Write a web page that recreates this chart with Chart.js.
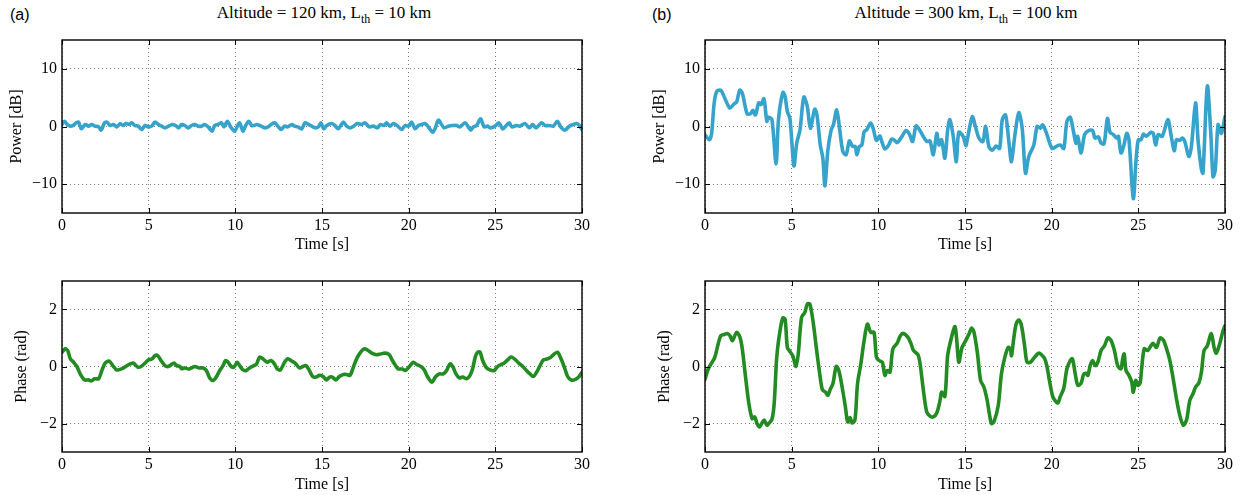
<!DOCTYPE html>
<html>
<head>
<meta charset="utf-8">
<script src="https://cdn.jsdelivr.net/npm/chart.js@4"></script>
<style>
  body { margin: 0; background: #fff; width: 1247px; height: 495px; position: relative; overflow: hidden; }
  .panel { position: absolute; }
  .tag { position: absolute; font-family: "Liberation Sans", Arial, sans-serif; font-size: 16px; line-height: 16px; }
  .ttl { position: absolute; font-family: "Liberation Serif", "Times New Roman", serif; font-size: 17px; line-height: 17px; transform: translateX(-50%); white-space: nowrap; }
  .ttl sub { font-size: 12px; vertical-align: -5px; line-height: 0; }
</style>
</head>
<body>

<div class="tag" style="left:10px; top:7px;">(a)</div>
<div class="tag" style="left:652px; top:7px;">(b)</div>
<div class="ttl" style="left:324px; top:4px;">Altitude = 120 km, L<sub>th</sub> = 10 km</div>
<div class="ttl" style="left:966px; top:4px;">Altitude = 300 km, L<sub>th</sub> = 100 km</div>

<div class="panel" style="left:0; top:0; width:623px; height:262px;"><canvas id="powA"></canvas></div>
<div class="panel" style="left:0; top:262px; width:623px; height:233px;"><canvas id="phaseA"></canvas></div>
<div class="panel" style="left:643px; top:0; width:604px; height:262px;"><canvas id="powB"></canvas></div>
<div class="panel" style="left:643px; top:262px; width:604px; height:233px;"><canvas id="phaseB"></canvas></div>

<script>
// ---- data ----
const xTicks = [0, 5, 10, 15, 20, 25, 30];
const powerTicks = [-10, 0, 10];
const phaseTicks = [-2, 0, 2];

// (a) power, 120 km
const timePowA = [0, 0.15, 0.3, 0.48, 0.65, 0.8, 0.96, 1.11, 1.34, 1.53, 1.72, 1.9, 2.11, 2.26, 2.45, 2.59, 2.78, 2.97, 3.16, 3.35, 3.54, 3.68, 3.87, 4.02, 4.21, 4.4, 4.6, 4.79, 4.98, 5.17, 5.36, 5.56, 5.75, 5.94, 6.15, 6.36, 6.55, 6.74, 6.9, 7.09, 7.28, 7.47, 7.66, 7.85, 8.05, 8.24, 8.43, 8.66, 8.81, 9.0, 9.2, 9.35, 9.54, 9.73, 9.96, 10.1, 10.25, 10.44, 10.58, 10.77, 10.95, 11.07, 11.26, 11.49, 11.68, 11.88, 12.07, 12.26, 12.45, 12.64, 12.84, 13.03, 13.26, 13.41, 13.6, 13.83, 14.02, 14.22, 14.41, 14.6, 14.79, 14.94, 15.1, 15.27, 15.56, 15.75, 15.94, 16.23, 16.42, 16.62, 16.83, 17.04, 17.29, 17.48, 17.73, 17.96, 18.19, 18.38, 18.58, 18.73, 18.92, 19.12, 19.37, 19.6, 19.79, 19.98, 20.17, 20.37, 20.56, 20.75, 20.94, 21.13, 21.38, 21.52, 21.71, 21.9, 22.04, 22.29, 22.54, 22.77, 22.96, 23.25, 23.44, 23.58, 23.73, 23.92, 24.15, 24.35, 24.54, 24.73, 24.98, 25.21, 25.42, 25.56, 25.81, 25.94, 26.23, 26.42, 26.71, 26.96, 27.15, 27.35, 27.67, 27.87, 28.12, 28.35, 28.58, 28.77, 29.02, 29.27, 29.5, 29.69, 29.85, 30];
const dbA = [0.35, 0.9, 0.35, 0.06, 0.2, 0.6, 0.75, -0.4, 0.35, 0.06, 0.35, 0.06, -0.06, -0.63, 0.63, 0.75, 0.17, 0.35, -0.06, 0.46, 0.17, 0.52, 0.35, 0.63, 0.17, 0.06, -0.52, 0.17, -0.06, 0.06, 0.75, 0.35, 0.06, -0.23, 0.06, 0.35, 0.17, -0.23, 0.35, 0.17, -0.23, 0.17, 0.35, 0.06, 0.06, 0.35, -0.06, -0.8, 0.17, 0.35, 0.63, -0.06, 0.92, -0.06, -0.8, -0.06, 0.63, -0.8, 0.06, 0.92, 0.17, 0.17, 0.35, 0.06, -0.23, -0.06, 0.35, 0.63, 0.06, -0.52, 0.06, -0.06, 0.35, 0.06, -0.06, -0.4, 0.63, 0.35, 0.06, -0.23, -0.06, 0.63, -0.4, 0.17, 0.52, 0.17, -0.4, 0.75, 0.06, -0.23, 0.06, 0.52, 0.35, 0.63, -0.06, 0.06, -0.23, 0.35, 0.17, 0.63, 0.06, 0.52, 0.06, -0.52, 0.17, 0.06, 0.75, -0.4, 0.17, 0.35, 0.52, -0.06, -0.98, -0.4, 1.09, 0.35, -0.23, 0.06, 0.17, 0.17, -0.06, 0.63, -0.06, -0.63, -0.06, 0.17, 1.32, -0.06, 0.06, -0.23, 0.06, 0.63, -0.4, -0.06, 0.63, -0.06, 0.17, 0.06, 0.52, -0.23, 0.35, -0.23, 0.63, 0.17, 0.17, 0.06, 0.92, -0.06, -0.63, 0.06, 0.35, 0.52, 0.17, -0.52];

// (a) phase, 120 km
const timePhA = [0, 0.19, 0.33, 0.48, 0.67, 0.86, 1.05, 1.3, 1.53, 1.69, 1.88, 2.11, 2.3, 2.49, 2.72, 2.97, 3.16, 3.45, 3.68, 3.93, 4.12, 4.37, 4.56, 4.79, 4.98, 5.21, 5.36, 5.52, 5.71, 5.94, 6.13, 6.36, 6.48, 6.61, 6.8, 6.9, 7.09, 7.28, 7.47, 7.66, 7.89, 8.14, 8.33, 8.52, 8.72, 8.9, 9.1, 9.29, 9.44, 9.58, 9.77, 9.92, 10.11, 10.25, 10.44, 10.63, 10.82, 11.07, 11.21, 11.4, 11.59, 11.84, 12.07, 12.26, 12.41, 12.6, 12.84, 13.03, 13.26, 13.45, 13.7, 13.89, 14.08, 14.27, 14.46, 14.66, 14.85, 15.06, 15.25, 15.44, 15.6, 15.8, 16.0, 16.23, 16.42, 16.62, 16.81, 17.0, 17.19, 17.42, 17.62, 17.87, 18.15, 18.38, 18.63, 18.87, 19.06, 19.25, 19.38, 19.63, 19.81, 20.04, 20.27, 20.46, 20.71, 20.9, 21.1, 21.35, 21.54, 21.77, 22.0, 22.19, 22.38, 22.54, 22.73, 22.92, 23.12, 23.35, 23.54, 23.69, 23.85, 23.98, 24.12, 24.27, 24.46, 24.69, 24.94, 25.13, 25.33, 25.52, 25.71, 25.9, 26.1, 26.35, 26.58, 26.77, 27.0, 27.19, 27.38, 27.58, 27.77, 28.02, 28.21, 28.4, 28.6, 28.79, 28.98, 29.17, 29.37, 29.56, 29.81, 30];
const radA = [0.5, 0.62, 0.56, 0.27, 0.15, 0.0, -0.26, -0.47, -0.47, -0.51, -0.43, -0.43, -0.14, 0.12, 0.19, 0.0, -0.12, -0.08, 0.0, 0.09, 0.12, -0.02, 0.0, 0.12, 0.23, 0.27, 0.38, 0.38, 0.21, 0.03, 0.0, 0.09, 0.12, 0.03, 0.0, -0.08, -0.05, -0.09, -0.05, 0.0, -0.05, -0.05, -0.14, -0.4, -0.49, -0.37, -0.14, 0.03, 0.21, 0.15, 0.0, -0.02, 0.15, 0.03, -0.12, -0.14, -0.05, 0.03, 0.07, 0.33, 0.27, 0.15, 0.21, 0.09, -0.08, -0.12, 0.15, 0.27, 0.19, 0.12, -0.05, 0.0, 0.03, -0.14, -0.35, -0.37, -0.31, -0.35, -0.47, -0.37, -0.37, -0.47, -0.35, -0.28, -0.28, -0.31, -0.02, 0.27, 0.47, 0.62, 0.58, 0.47, 0.41, 0.44, 0.47, 0.42, 0.21, 0.03, -0.08, -0.09, -0.14, 0.0, 0.15, 0.07, 0.0, -0.12, -0.37, -0.55, -0.37, -0.26, -0.26, -0.14, 0.09, 0.0, -0.26, -0.4, -0.37, -0.43, -0.31, -0.08, 0.35, 0.5, 0.5, 0.21, -0.02, -0.12, -0.14, 0.0, 0.07, 0.12, 0.23, 0.33, 0.27, 0.12, 0.0, -0.12, -0.26, -0.35, -0.2, 0.03, 0.23, 0.27, 0.33, 0.44, 0.5, 0.27, -0.02, -0.35, -0.47, -0.47, -0.37, -0.2];

// (b) power, 300 km
const timePowB = [0, 0.25, 0.38, 0.53, 0.68, 0.91, 1.1, 1.43, 1.67, 1.83, 2.0, 2.15, 2.43, 2.62, 2.76, 2.91, 3.1, 3.23, 3.4, 3.57, 3.67, 3.86, 4.1, 4.24, 4.49, 4.62, 4.75, 4.9, 5.13, 5.29, 5.48, 5.7, 5.9, 6.08, 6.33, 6.46, 6.65, 6.8, 6.92, 7.09, 7.28, 7.41, 7.6, 7.75, 7.95, 8.14, 8.33, 8.5, 8.67, 8.76, 8.9, 9.05, 9.18, 9.32, 9.56, 9.7, 9.89, 10.08, 10.2, 10.38, 10.6, 10.76, 10.9, 11.08, 11.37, 11.6, 11.79, 11.98, 12.17, 12.32, 12.55, 12.8, 12.98, 13.17, 13.37, 13.5, 13.65, 13.84, 14.0, 14.13, 14.32, 14.5, 14.64, 14.89, 15.05, 15.13, 15.42, 15.6, 15.8, 16.03, 16.19, 16.38, 16.57, 16.8, 17.0, 17.15, 17.34, 17.53, 17.68, 17.87, 18.1, 18.3, 18.49, 18.68, 18.97, 19.16, 19.35, 19.48, 19.67, 20.02, 20.3, 20.5, 20.7, 20.88, 21.07, 21.26, 21.4, 21.5, 21.7, 21.9, 22.13, 22.36, 22.5, 22.7, 22.85, 23.02, 23.22, 23.37, 23.56, 23.75, 23.85, 24.0, 24.17, 24.33, 24.46, 24.71, 24.87, 25.0, 25.15, 25.3, 25.45, 25.73, 25.86, 26.0, 26.15, 26.38, 26.7, 26.87, 27.07, 27.2, 27.39, 27.53, 27.68, 27.91, 28.06, 28.3, 28.45, 28.64, 28.73, 28.98, 29.18, 29.31, 29.44, 29.6, 29.79, 30];
const dbB = [-1.45, -2.3, -1.2, 4.1, 6.1, 6.3, 5.2, 3.2, 3.9, 4.3, 6.3, 5.8, 2.2, 2.2, 2.8, 2.0, 4.1, 3.8, 4.8, 0.9, 1.6, 1.2, -6.5, 1.2, 5.9, 5.2, 2.6, 1.4, -6.8, -2.9, -0.6, 5.1, 3.5, -0.3, 3.0, 2.0, -3.2, -5.5, -10.3, -4.1, -0.6, 0.3, 2.9, 0, -4.3, -4.9, -2.5, -3.4, -3.5, -4.9, -3.5, -3.2, -0.9, -0.6, 0.6, -0.3, -2.4, -1.6, -2.6, -3.9, -3.2, -2.2, -2.3, -2.8, -1.7, -0.7, -1.3, -2.6, 0.1, -0.3, -1.5, -2.6, -2.5, -4.9, -1.2, -3.2, -2.3, -5.5, -0.6, 1.2, -1.7, -6.1, -1.0, -1.7, -3.3, -2.3, 1.7, 0, -2.0, -2.6, 0, -3.5, -4.1, -3.4, -3.8, 1.2, 2.0, -2.6, -6.1, -1.7, 2.4, -0.3, -8.1, -5.2, -3.2, 0, -0.3, 0.3, -0.9, -3.8, -3.4, -3.2, -3.8, 0.9, 1.6, -0.9, -2.9, -1.7, -4.6, -1.4, -0.7, -0.7, -2.0, -1.8, -2.9, -3.0, 1.4, -1.0, -1.4, -2.0, -1.7, -4.6, -3.2, -1.2, -2.3, -12.5, -5.8, -2.3, -2.3, -1.3, -1.7, -1.0, -1.2, -3.2, -1.4, -1.7, 1.2, -1.2, -4.2, -2.3, -2.4, -2.0, -2.6, -5.2, -3.5, 4.1, -2.6, -7.5, -8.1, 7.0, -1.2, -8.7, -7.5, 0.3, -1.2, 1.7];

// (b) phase, 300 km
const timePhB = [0, 0.19, 0.38, 0.57, 0.76, 0.91, 1.1, 1.29, 1.44, 1.58, 1.83, 2.02, 2.15, 2.34, 2.53, 2.72, 2.87, 3.0, 3.14, 3.29, 3.42, 3.57, 3.67, 3.86, 3.99, 4.14, 4.33, 4.49, 4.62, 4.75, 4.87, 5.06, 5.25, 5.38, 5.57, 5.76, 5.9, 6.05, 6.24, 6.43, 6.62, 6.77, 6.96, 7.09, 7.22, 7.38, 7.57, 7.72, 7.91, 8.1, 8.23, 8.37, 8.48, 8.65, 8.8, 8.99, 9.18, 9.37, 9.56, 9.75, 9.89, 10.04, 10.23, 10.38, 10.51, 10.67, 10.84, 11.08, 11.27, 11.46, 11.71, 11.88, 12.03, 12.28, 12.41, 12.6, 12.79, 12.98, 13.17, 13.37, 13.56, 13.65, 13.84, 13.99, 14.13, 14.41, 14.51, 14.64, 14.83, 15.04, 15.23, 15.38, 15.52, 15.71, 15.9, 16.09, 16.28, 16.42, 16.53, 16.67, 16.92, 17.1, 17.3, 17.49, 17.62, 17.68, 17.82, 17.95, 18.1, 18.26, 18.45, 18.58, 18.77, 19.02, 19.25, 19.4, 19.6, 19.73, 19.87, 20.06, 20.21, 20.36, 20.5, 20.69, 20.88, 21.07, 21.2, 21.36, 21.51, 21.7, 21.84, 21.97, 22.09, 22.22, 22.36, 22.51, 22.66, 22.85, 23.05, 23.24, 23.43, 23.62, 23.81, 24.0, 24.08, 24.18, 24.29, 24.46, 24.62, 24.71, 24.85, 24.96, 25.1, 25.19, 25.34, 25.54, 25.73, 25.86, 26.05, 26.25, 26.44, 26.63, 26.82, 27.01, 27.2, 27.39, 27.59, 27.78, 27.97, 28.16, 28.3, 28.49, 28.64, 28.79, 28.98, 29.21, 29.37, 29.5, 29.69, 29.89, 30];
const radB = [-0.45, -0.08, 0.12, 0.33, 0.79, 1.08, 1.12, 1.16, 1.08, 0.91, 1.2, 1.02, 0.62, -0.37, -1.3, -1.83, -1.77, -2.0, -2.12, -1.98, -1.88, -2.06, -2.0, -1.86, -1.3, 0.33, 1.26, 1.7, 1.66, 0.67, 0.55, 0.38, 0.0, 0.44, 1.72, 1.9, 2.19, 2.19, 1.55, 0.62, -0.26, -0.81, -0.9, -1.01, -0.81, -0.6, 0.0, -0.14, -0.72, -1.42, -1.94, -1.79, -1.98, -1.88, -0.6, 0.09, 0.91, 1.49, 1.2, 1.2, 0.33, 0.21, 0.15, -0.31, -0.14, -0.2, 0.62, 0.81, 1.08, 1.16, 1.02, 0.81, 0.56, 0.42, 0.09, -0.84, -1.59, -1.74, -1.77, -1.63, -1.19, -0.9, -1.05, 0.33, 0.79, 1.4, 1.02, 0.15, 0.67, 0.91, 1.14, 1.35, 1.2, 0.5, -0.49, -0.72, -1.19, -1.71, -2.0, -1.94, -1.36, -0.26, 0.33, 0.67, 0.62, 0.38, 1.02, 1.49, 1.63, 1.43, 0.67, 0.15, 0.15, 0.33, 0.47, 0.42, 0.27, 0.0, -0.49, -1.05, -1.21, -1.28, -1.05, -0.78, -0.08, 0.21, 0.27, -0.26, -0.66, -0.58, -0.28, -0.24, -0.31, 0.03, 0.21, 0.03, 0.15, 0.56, 0.73, 1.0, 0.91, 0.56, 0.03, -0.08, 0.21, 0.44, -0.14, -0.31, -0.55, -0.9, -0.49, -0.66, -0.58, -0.08, 0.62, 0.56, 0.73, 0.81, 0.67, 1.0, 0.93, 0.62, 0.21, -0.43, -1.13, -1.71, -2.06, -1.88, -1.19, -0.95, -0.72, -0.58, -0.2, 0.56, 0.73, 1.16, 0.67, 0.47, 0.79, 1.26, 1.43];

const BLUE = '#36a3cc';
const GREEN = '#228b22';
const SERIF = '"Liberation Serif", "Times New Roman", serif';
const FONT_SIZE = 16;

// box round the plot + inward tick marks, like the original figure
const framePlugin = {
    id: 'frame',
    afterDatasetsDraw(chart) {
        const { ctx, chartArea: a, scales } = chart;
        const len = 5;
        ctx.save();
        ctx.strokeStyle = '#000';
        ctx.lineWidth = 1;
        ctx.beginPath();
        scales.x.ticks.forEach(t => {
            const x = Math.round(scales.x.getPixelForValue(t.value)) + 0.5;
            ctx.moveTo(x, a.bottom); ctx.lineTo(x, a.bottom - len);
            ctx.moveTo(x, a.top); ctx.lineTo(x, a.top + len);
        });
        scales.y.ticks.forEach(t => {
            const y = Math.round(scales.y.getPixelForValue(t.value)) + 0.5;
            ctx.moveTo(a.left, y); ctx.lineTo(a.left + len, y);
            ctx.moveTo(a.right, y); ctx.lineTo(a.right - len, y);
        });
        ctx.stroke();
        ctx.lineWidth = 1.4;
        ctx.strokeRect(a.left, a.top, a.right - a.left, a.bottom - a.top);
        ctx.restore();
    }
};

function makePanel(id, times, values, color, yRange, yTicks, yTitle, geo) {
    const points = times.map((t, i) => ({ x: t, y: values[i] }));
    new Chart(document.getElementById(id), {
        type: 'line',
        data: {
            datasets: [{
                data: points,
                borderColor: color,
                borderWidth: 3.6,
                pointRadius: 0,
                tension: 0.3,
                borderJoinStyle: 'round',
                borderCapStyle: 'round'
            }]
        },
        options: {
            responsive: true,
            maintainAspectRatio: false,
            animation: false,
            layout: { padding: { top: geo.top, right: geo.right, bottom: geo.bottom, left: 0 } },
            plugins: { legend: { display: false }, tooltip: { enabled: false } },
            scales: {
                x: {
                    type: 'linear',
                    min: 0, max: 30,
                    afterBuildTicks: s => { s.ticks = xTicks.map(v => ({ value: v })); },
                    afterFit: s => { s.height = geo.xHeight; },
                    grid: { color: 'rgba(0,0,0,0.5)', lineWidth: 1, drawTicks: false },
                    border: { display: false, dash: [1, 3] },
                    ticks: { color: '#000', font: { family: SERIF, size: FONT_SIZE }, padding: 3, autoSkip: false, maxRotation: 0 },
                    title: { display: true, text: 'Time [s]', color: '#000', font: { family: SERIF, size: FONT_SIZE }, padding: { top: 0, bottom: 0 } }
                },
                y: {
                    min: yRange[0], max: yRange[1],
                    afterBuildTicks: s => { s.ticks = yTicks.map(v => ({ value: v })); },
                    afterFit: s => { s.width = 62; },
                    grid: { color: 'rgba(0,0,0,0.5)', lineWidth: 1, drawTicks: false },
                    border: { display: false, dash: [1, 3] },
                    ticks: {
                        color: '#000', font: { family: SERIF, size: FONT_SIZE }, padding: 5,
                        callback: v => String(v).replace('-', '\u2212')
                    },
                    title: { display: true, text: yTitle, color: '#000', font: { family: SERIF, size: FONT_SIZE }, padding: { top: geo.yTitlePad, bottom: 0 } }
                }
            }
        },
        plugins: [framePlugin]
    });
}

const topGeo = { top: 40, bottom: 8, xHeight: 41 };
const botGeo = { top: 19, bottom: 1, xHeight: 42 };

makePanel('powA', timePowA, dbA, BLUE, [-15, 15], powerTicks, 'Power [dB]', { ...topGeo, right: 41, yTitlePad: 7 });
makePanel('phaseA', timePhA, radA, GREEN, [-3, 3], phaseTicks, 'Phase (rad)', { ...botGeo, right: 41, yTitlePad: 12 });
makePanel('powB', timePowB, dbB, BLUE, [-15, 15], powerTicks, 'Power [dB]', { ...topGeo, right: 22, yTitlePad: 7 });
makePanel('phaseB', timePhB, radB, GREEN, [-3, 3], phaseTicks, 'Phase (rad)', { ...botGeo, right: 22, yTitlePad: 12 });
</script>
</body>
</html>
